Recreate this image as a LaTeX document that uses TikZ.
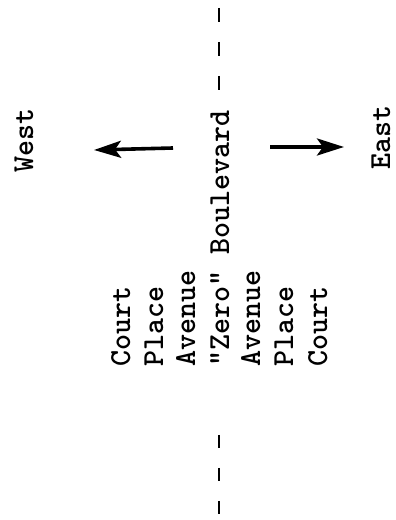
\documentclass[tikz,border=0pt]{standalone}
\usetikzlibrary{arrows.meta}
\begin{document}
\begin{tikzpicture}[x=1pt,y=1pt,
  lbl/.style={rotate=90,anchor=base west,inner sep=0pt,font=\fontsize{30.5}{30.5}\selectfont\ttfamily\fontseries{b}\selectfont},
  road/.style={line width=2.6pt,dash pattern=on 14pt off 20pt},
  dir/.style={line width=3.6pt,-{Stealth[length=27pt,width=17pt,inset=6pt]}}]
\useasboundingbox (0,0) rectangle (396,520);
% street names (image y -> 520 - y)
\node[lbl] (west) at (33,347) {West};
\node[lbl] (east) at (390,350) {East};
\node[lbl] (c1) at (130,153) {Court};
\node[lbl] (p1) at (163,153) {Place};
\node[lbl] (a1) at (195,153) {Avenue};
\node[lbl] (z) at (229,153) {"Zero" Boulevard};
\node[lbl] (a2) at (260,153) {Avenue};
\node[lbl] (p2) at (293,153) {Place};
\node[lbl] (c2) at (327,153) {Court};
% boulevard line
\coordinate (rt) at (219,512);
\coordinate (rb) at (219,430);
\coordinate (lt) at (219,85);
\coordinate (lb) at (219,5);
\draw[road] (rt) -- (rb);
\draw[road,dash pattern=on 13pt off 20pt] (lt) -- (lb);
% arrows
\coordinate (wa) at (173,372);
\coordinate (wb) at (94,370);
\coordinate (ea) at (270,373);
\coordinate (eb) at (344,373);
\draw[dir] (wa) -- (wb);
\draw[dir] (ea) -- (eb);
\end{tikzpicture}
\end{document}
